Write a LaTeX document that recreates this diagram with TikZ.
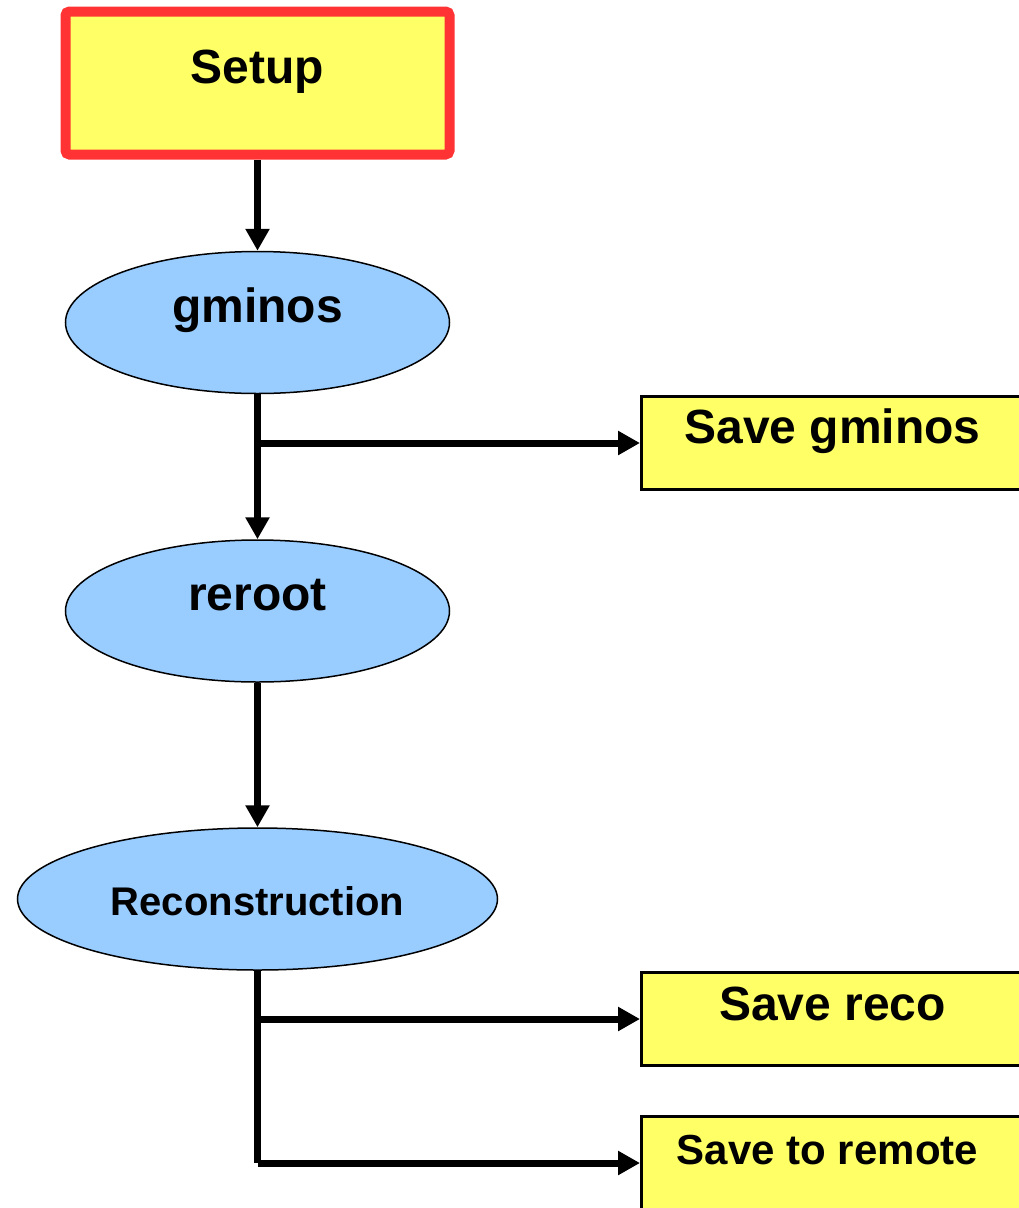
\documentclass[tikz,border=0pt]{standalone}
\usepackage{fontspec}
\setmainfont{Liberation Sans}
\usetikzlibrary{shapes.geometric,arrows.meta}
\definecolor{boxyellow}{HTML}{FFFF66}
\definecolor{ellblue}{HTML}{99CCFF}
\definecolor{setupred}{HTML}{FF3333}
\begin{document}
\begin{tikzpicture}[x=1pt,y=-1pt,
  bigtxt/.style={font=\fontsize{48}{56}\selectfont\bfseries, anchor=base, inner sep=0},
  midtxt/.style={font=\fontsize{40}{46}\selectfont\bfseries, anchor=base, inner sep=0},
  remtxt/.style={font=\fontsize{42}{48}\selectfont\bfseries, anchor=base, inner sep=0},
  savebox/.style={draw=black, line width=3pt, fill=boxyellow, minimum width=382pt, minimum height=93pt, inner sep=0},
  proc/.style={ellipse, draw=black, line width=1.5pt, fill=ellblue, inner sep=0},
  conn/.style={line width=7pt, -{Triangle[length=22pt,width=23pt]}},
  plainline/.style={line width=7pt}]
\useasboundingbox (0,0) rectangle (1019,1208);
\clip (0,0) rectangle (1019,1208);
\fill[white] (0,0) rectangle (1019,1208);

\node[draw=setupred, line width=10pt, rounded corners=4pt, fill=boxyellow, minimum width=384pt, minimum height=143pt, inner sep=0] (setup) at (257.5,83) {};
\node[bigtxt] (setupt) at (257.5,83) {Setup};

\node[proc, minimum width=384pt, minimum height=142pt] (gminos) at (257.5,322.5) {};
\node[bigtxt] (gminost) at (257.5,322) {gminos};

\node[proc, minimum width=384pt, minimum height=142pt] (reroot) at (257.5,611) {};
\node[bigtxt] (reroott) at (257.5,610) {reroot};

\node[proc, minimum width=480pt, minimum height=142pt] (recon) at (257.5,899) {};
\node[midtxt] (recont) at (257.5,915) {Reconstruction};

\node[savebox] (savegminos) at (832.5,443) {};
\node[bigtxt] (savegminost) at (832.5,443) {Save gminos};

\node[savebox] (savereco) at (832.5,1019) {};
\node[bigtxt] (saverecot) at (832.5,1020) {Save reco};

\node[savebox] (saveremote) at (832.5,1163) {};
\node[remtxt] (saveremotet) at (827.5,1164) {Save to remote};

\draw[conn] (setup.south) -- (gminos.north);
\draw[conn] (gminos.south) -- (reroot.north);
\coordinate (b1) at (gminos.south |- savegminos.west);
\draw[conn] (b1) -- (savegminos.west);
\draw[conn] (reroot.south) -- (recon.north);
\coordinate (b2) at (recon.south |- savereco.west);
\coordinate (b3) at (recon.south |- saveremote.west);
\draw[plainline] (recon.south) -- (b3);
\draw[conn] (b3) -- (saveremote.west);
\draw[conn] (b2) -- (savereco.west);
\end{tikzpicture}
\end{document}
